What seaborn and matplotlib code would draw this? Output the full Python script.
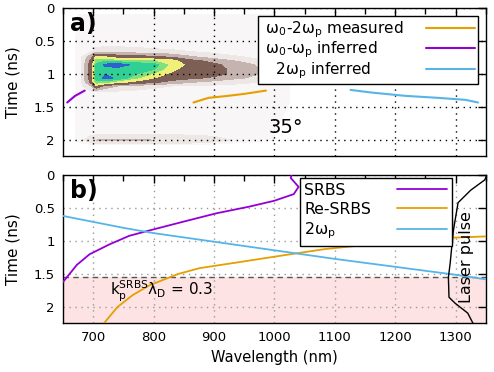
import matplotlib
matplotlib.use("Agg")
import matplotlib.pyplot as plt
from matplotlib.ticker import MultipleLocator
import seaborn as sns

# streak image (coarse intensity map)
img_wl = [660, 680, 697, 705, 720, 740, 770, 800, 830, 860, 900, 950, 1000, 1050, 1110]
img_t = [0.1, 0.55, 0.66, 0.74, 0.8, 0.86, 0.93, 1.0, 1.06, 1.12, 1.18, 1.27, 1.42, 1.9, 2.0, 2.08]
img_z = [
    [0, .04, .04, .04, .04, .04, .04, .04, .04, .04, .04, .04, .03, .02, 0],
    [0, .06, .05, .05, .05, .05, .05, .05, .05, .05, .05, .04, .04, .02, 0],
    [0, .06, .08, .12, .14, .14, .12, .1, .09, .08, .06, .05, .04, .02, 0],
    [0, .06, .3, .6, .55, .45, .42, .38, .32, .22, .12, .08, .05, .02, 0],
    [0, .06, .4, .75, .78, .74, .72, .7, .62, .4, .3, .15, .06, .03, 0],
    [0, .06, .45, .82, .95, 1.0, .88, .85, .66, .5, .38, .25, .1, .04, 0],
    [0, .06, .45, .82, .86, .86, .84, .8, .6, .42, .4, .28, .12, .05, 0],
    [0, .06, .45, .82, .92, .86, .8, .68, .5, .4, .4, .28, .12, .05, 0],
    [0, .06, .45, .84, .95, .9, .72, .56, .42, .38, .32, .2, .08, .04, 0],
    [0, .06, .42, .78, .74, .62, .5, .38, .3, .22, .15, .1, .05, .03, 0],
    [0, .06, .2, .5, .3, .2, .15, .1, .08, .07, .06, .05, .04, .02, 0],
    [0, .06, .06, .08, .07, .06, .05, .05, .05, .05, .05, .05, .04, .02, 0],
    [0, .06, .05, .05, .05, .05, .05, .05, .05, .05, .05, .05, .04, .02, 0],
    [0, .06, .05, .05, .05, .05, .05, .05, .05, .05, .05, .04, .03, .02, 0],
    [0, .06, .15, .2, .22, .22, .22, .2, .2, .18, .12, .05, .03, .01, 0],
    [0, 0, 0, 0, 0, 0, 0, 0, 0, 0, 0, 0, 0, 0, 0],
]
img_levels = [0.03, 0.08, 0.2, 0.35, 0.55, 0.7, 0.8, 0.92, 1.1]
img_colors = ["#f8f6f6", "#ede7e6", "#c4b3ae", "#7d5f55",
              "#eef07a", "#7ee07e", "#2fcf95", "#3060d0"]

# panel a lines
meas_wl = [866, 891, 923, 950, 986]
meas_t = [1.43, 1.36, 1.33, 1.30, 1.25]
inf1_wl = [657, 670, 686]
inf1_t = [1.43, 1.33, 1.25]
inf2_wl = [1126, 1161, 1217, 1271, 1316, 1337]
inf2_t = [1.24, 1.28, 1.33, 1.36, 1.39, 1.43]

# panel b lines
srbs_wl = [650, 673, 694, 727, 760, 793, 848, 904, 958, 1000, 1032, 1040, 1027, 1030]
srbs_t = [1.62, 1.36, 1.2, 1.05, 0.92, 0.84, 0.71, 0.58, 0.48, 0.39, 0.29, 0.18, 0.045, -0.05]
resrbs_wl = [710, 740, 765, 793, 840, 876, 941, 1019, 1085, 1150, 1220, 1292, 1350]
resrbs_t = [2.33, 2.0, 1.82, 1.67, 1.5, 1.41, 1.32, 1.21, 1.12, 1.06, 1.0, 0.95, 0.93]
wp_wl = [650, 700, 750, 800, 900, 1000, 1100, 1200, 1300, 1350]
wp_t = [0.62, 0.71, 0.80, 0.88, 1.01, 1.14, 1.27, 1.39, 1.51, 1.58]
pulse_wl = [1352, 1348, 1325, 1304, 1296, 1296, 1291, 1288, 1289, 1299, 1320, 1329, 1331]
pulse_t = [0.0, 0.076, 0.23, 0.42, 0.68, 1.03, 1.33, 1.55, 1.85, 1.94, 2.09, 2.25, 2.3]
threshold_t = 1.55

y_ticks = [0, 0.5, 1, 1.5, 2]
y_labels = ["0", "0.5", "1", "1.5", "2"]

sns.set_style("white")
plt.rcParams["font.family"] = ["DejaVu Sans"]
plt.rcParams["mathtext.default"] = "regular"
plt.rcParams["text.color"] = "black"
plt.rcParams["axes.labelcolor"] = "black"
plt.rcParams["xtick.color"] = "black"
plt.rcParams["ytick.color"] = "black"

violet = "#9400d3"
orange = "#e69f00"
blue = "#56b4e9"


def left_align_legend(leg, width):
    # text left, line right, all rows same width
    for col in leg._legend_handle_box.get_children():
        for row in col.get_children():
            row.mode = "expand"
            row.width = width


fig = plt.figure(figsize=(4.94, 3.72), dpi=100)
ax_a = fig.add_axes([0.1275, 0.5806, 0.856, 0.398])
ax_b = fig.add_axes([0.1275, 0.1317, 0.856, 0.398])

for ax in (ax_a, ax_b):
    ax.set_xlim(650, 1350)
    ax.set_ylim(2.24, 0)
    ax.set_yticks(y_ticks)
    ax.set_yticklabels(y_labels)
    ax.xaxis.set_major_locator(MultipleLocator(100))
    ax.xaxis.set_minor_locator(MultipleLocator(50))
    ax.tick_params(which="both", direction="in", top=True, right=True, labelsize=9.5, pad=6)
    ax.tick_params(which="major", length=6, width=1)
    ax.tick_params(which="minor", length=4, width=1)
    ax.tick_params(axis="y", which="minor", left=False, right=False)
    for s in ax.spines.values():
        s.set_color("black")
        s.set_linewidth(1)
    ax.set_ylabel("Time (ns)", fontsize=11)
    ax.yaxis.set_label_coords(-0.10, 0.5)

# panel a
ax_a.contourf(img_wl, img_t, img_z, levels=img_levels, colors=img_colors, zorder=0)
ax_a.set_axisbelow(False)
ax_a.grid(True, which="major", linestyle=(0, (1, 3.3)), color="black", linewidth=1)
sns.lineplot(x=meas_wl, y=meas_t, sort=False, color=orange, lw=1.5, ax=ax_a,
             label=r" $\omega_0$-2$\omega_p$ measured", zorder=3)
sns.lineplot(x=inf1_wl, y=inf1_t, sort=False, color=violet, lw=1.5, ax=ax_a,
             label=r" $\omega_0$-$\omega_p$ inferred", zorder=3)
sns.lineplot(x=inf2_wl, y=inf2_t, sort=False, color=blue, lw=1.5, ax=ax_a,
             label=r"   2$\omega_p$ inferred", zorder=3)
ax_a.set_xticklabels([])
ax_a.set_xlabel("")
leg = ax_a.legend(loc="upper right", bbox_to_anchor=(0.981, 0.946), borderaxespad=0,
                  fontsize=11, markerfirst=False, frameon=True, fancybox=False,
                  edgecolor="black", framealpha=1, handlelength=3.2, labelspacing=0.0,
                  borderpad=0.2, handletextpad=1.2)
leg.get_frame().set_linewidth(1)
left_align_legend(leg, 214)
ax_a.text(0.017, 0.97, "a)", transform=ax_a.transAxes, fontsize=17, fontweight="bold",
          ha="left", va="top")
ax_a.text(0.485, 0.13, "35°", transform=ax_a.transAxes, fontsize=14, ha="left", va="bottom")

# panel b
ax_b.axhspan(threshold_t, 2.24, color="#fde3e3", zorder=0, lw=0)
ax_b.axhline(threshold_t, color="#555555", linestyle=(0, (4, 3)), lw=1, zorder=1)
ax_b.set_axisbelow(True)
ax_b.grid(True, which="major", linestyle=(0, (1, 3.3)), color="#999999", linewidth=1)
sns.lineplot(x=srbs_wl, y=srbs_t, sort=False, color=violet, lw=1.3, ax=ax_b, label="SRBS", zorder=3)
sns.lineplot(x=resrbs_wl, y=resrbs_t, sort=False, color=orange, lw=1.3, ax=ax_b, label="Re-SRBS", zorder=3)
sns.lineplot(x=wp_wl, y=wp_t, sort=False, color=blue, lw=1.3, ax=ax_b, label=r"2$\omega_p$", zorder=3)
sns.lineplot(x=pulse_wl, y=pulse_t, sort=False, color="black", lw=1, ax=ax_b, zorder=3)
ax_b.set_xlabel("Wavelength (nm)", fontsize=10.5)
leg = ax_b.legend(loc="upper left", bbox_to_anchor=(0.56, 0.98), borderaxespad=0,
                  fontsize=11.3, markerfirst=False, frameon=True, fancybox=False,
                  edgecolor="black", framealpha=1, handlelength=3.2, labelspacing=0.25,
                  borderpad=0.3, handletextpad=2.0)
leg.get_frame().set_linewidth(1)
leg.set_zorder(5)
left_align_legend(leg, 143)
ax_b.text(0.017, 0.97, "b)", transform=ax_b.transAxes, fontsize=17, fontweight="bold",
          ha="left", va="top")
ax_b.text(727, 1.76, r"$k_p^{SRBS}\lambda_D$ = 0.3", fontsize=11, ha="left", va="center")
ax_b.text(1318, 1.24, "Laser pulse", fontsize=11.5, rotation=90, ha="center", va="center")

fig.savefig("out.png", dpi=100)
